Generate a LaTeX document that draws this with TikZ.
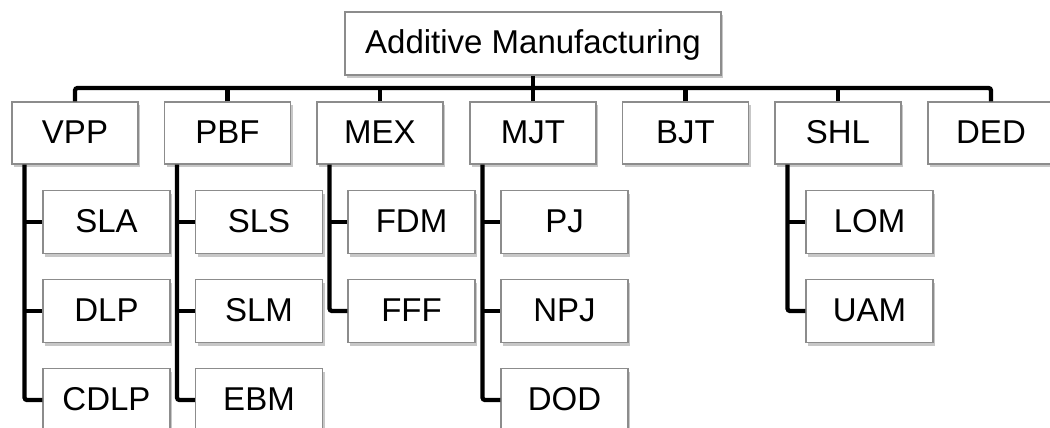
\documentclass[tikz,border=0pt]{standalone}
\usepackage{fontspec}
\setmainfont{Liberation Sans}
\usetikzlibrary{shadows,calc}

\tikzset{
  box/.style={draw=black!45, line width=1.1pt, fill=white,
    minimum width=126pt, minimum height=62pt, inner sep=0pt,
    text height=23.5pt, text depth=3pt,
    font=\fontsize{33}{39}\selectfont,
    drop shadow={shadow xshift=2pt, shadow yshift=-3pt, fill=black, opacity=0.22}},
  subbox/.style={box, minimum width=127pt, minimum height=63pt},
  link/.style={line width=4.3pt, line cap=butt, rounded corners=2.5pt},
}

\begin{document}
\begin{tikzpicture}[x=1pt, y=-1pt]
\useasboundingbox (0,0) rectangle (1050,428);

% root
\node[box, minimum width=376pt, minimum height=63pt] (AM) at (533,43.5) {Additive Manufacturing};

% process categories
\foreach \n/\x in {VPP/75, PBF/227.5, MEX/380, MJT/533, BJT/685.5, SHL/838, DED/991}
  \node[box] (\n) at (\x,133) {\n};

% technologies
\foreach \p/\n/\y in {VPP/SLA/222, VPP/DLP/311, VPP/CDLP/400,
                      PBF/SLS/222, PBF/SLM/311, PBF/EBM/400,
                      MEX/FDM/222, MEX/FFF/311,
                      MJT/PJ/222, MJT/NPJ/311, MJT/DOD/400,
                      SHL/LOM/222, SHL/UAM/311}
  \node[subbox] (\n) at ($(\p.center)+(31.5,0)$) [yshift=-\y pt+133pt] {\n};

% bus from the root to the categories
\coordinate (bus) at (0,88);
\draw[link] (VPP.north) -- (VPP.north |- bus) -- (DED.north |- bus) -- (DED.north);
\foreach \n in {PBF, MEX, MJT, BJT, SHL}
  \draw[link] (\n.north) -- (\n.north |- bus);
\draw[link] (AM.south) -- (AM.south |- bus);

% trunks down to the technologies
\foreach \p/\last in {VPP/CDLP, PBF/EBM, MEX/FFF, MJT/DOD, SHL/UAM}{
  \coordinate (\p-t) at ($(\p.south)+(-50.5,0)$);
  \draw[link] (\p-t) |- (\last.west);
}
\foreach \p/\n in {VPP/SLA, VPP/DLP, PBF/SLS, PBF/SLM, MEX/FDM, MJT/PJ, MJT/NPJ, SHL/LOM}
  \draw[link] (\p-t |- \n.west) -- (\n.west);

\end{tikzpicture}
\end{document}
